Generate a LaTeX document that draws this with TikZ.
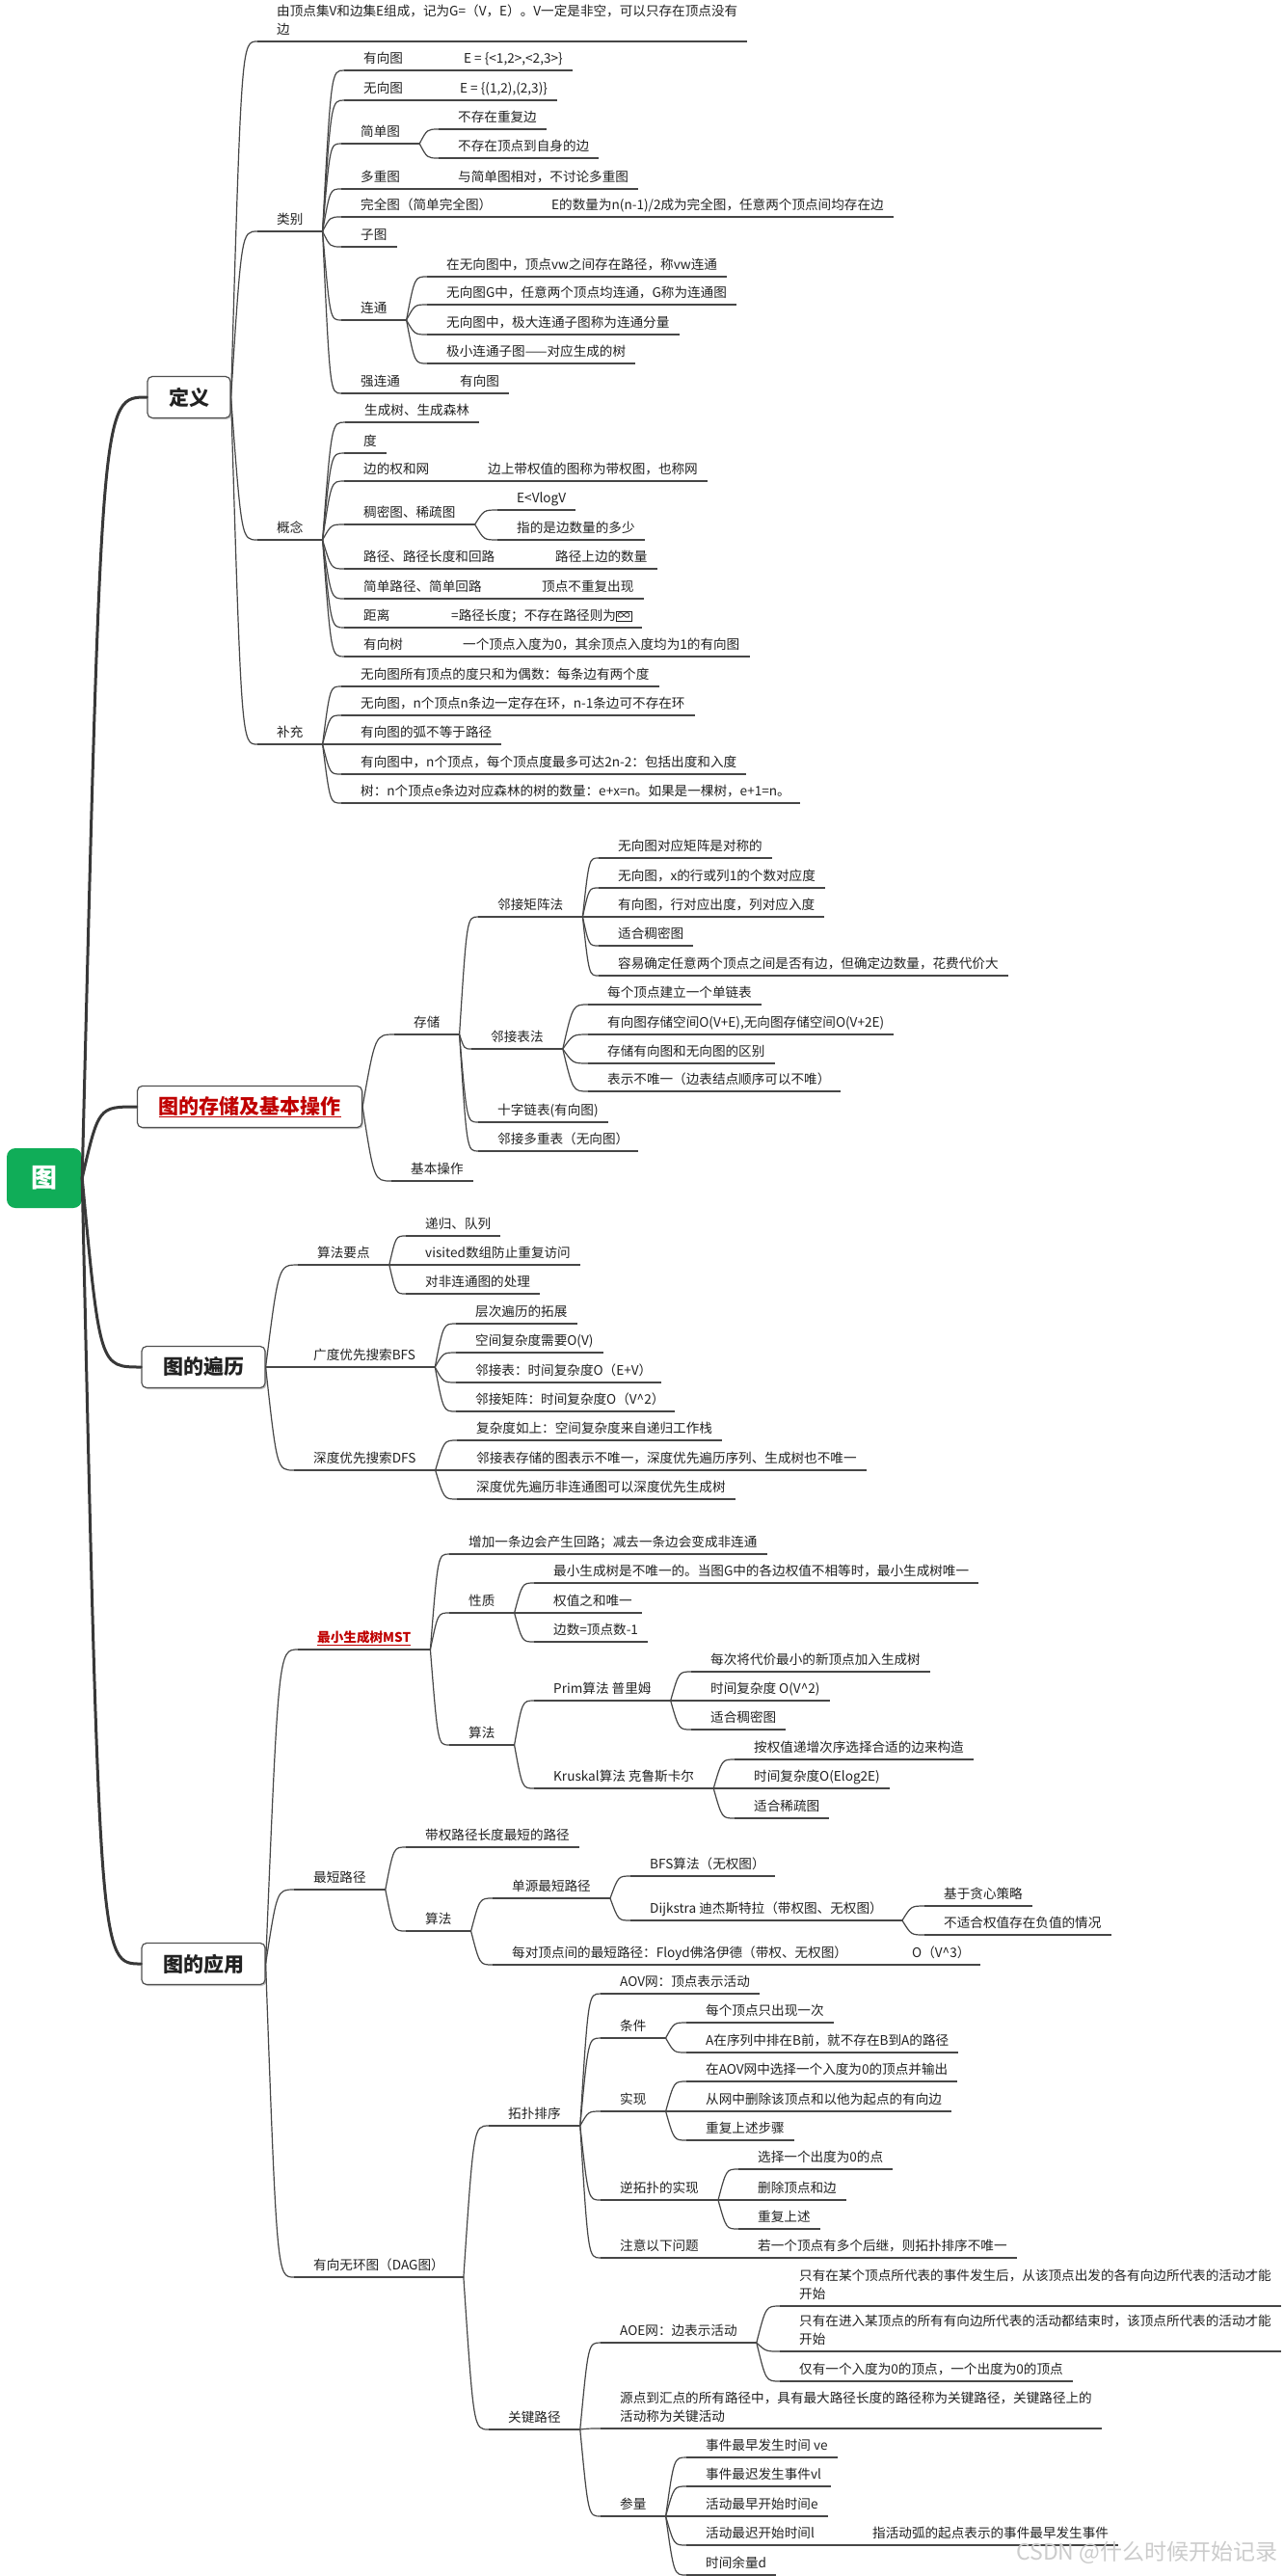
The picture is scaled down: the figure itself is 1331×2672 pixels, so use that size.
\documentclass[tikz,border=0pt]{standalone}
\usepackage{fontspec}
\setmainfont{Noto Sans CJK SC}
\usetikzlibrary{%
  calc,
  shadows,
}

\definecolor{linec}{HTML}{464646}
\definecolor{trunkc}{HTML}{383838}
\definecolor{textc}{HTML}{222222}
\definecolor{redc}{HTML}{C00000}
\definecolor{rootc}{HTML}{10AD58}
\definecolor{boxc}{HTML}{505050}

\newcommand\topicfont{\fontsize{13.6pt}{18.5pt}\selectfont}
\newcommand\boxfont{\fontsize{21pt}{25pt}\selectfont\bfseries}

\tikzset{
  topic/.style = {
    anchor = south west,
    inner xsep = 10pt, inner ysep = 4.5pt,
    text depth = 3pt,
    font = \topicfont, text = textc,
    append after command = {(\tikzlastnode.south west) edge[uline] (\tikzlastnode.south east)},
  },
  leaf/.style = {topic, execute at begin node = {\hspace{10pt}}},
  branch/.style = {leaf, execute at end node = {\hspace{10pt}}},
  multiline/.style = {topic, align = left},
  uline/.style = {draw = linec, line width = 1.2pt},
  link/.style = {
    color = linec, line width = 1.2pt,
    to path = {.. controls ($(\tikztostart|-\tikztotarget)!0.4!(\tikztotarget)$) .. (\tikztotarget)},
  },
  trunk/.style = {
    color = trunkc, line width = 3pt, line cap = round,
    to path = {.. controls ($(\tikztostart|-\tikztotarget)!0.3!(\tikztotarget)$) .. (\tikztotarget)},
  },
  mainbox/.style = {
    draw = boxc, line width = 1.2pt, fill = white,
    rounded corners = 5pt,
    minimum height = 43pt, inner xsep = 22pt,
    font = \boxfont, text = textc,
    drop shadow = {shadow xshift = 1.5pt, shadow yshift = -1.5pt, fill = black!45},
  },
  rootbox/.style = {
    fill = rootc, rounded corners = 9pt,
    minimum width = 78pt, minimum height = 62pt,
    font = \fontsize{27pt}{30pt}\selectfont\bfseries, text = white,
  },
}

\begin{document}
\begin{tikzpicture}[x = 1pt, y = -1pt]
  \fill[white] (0,0) rectangle (1331,2672);
  \useasboundingbox (0,0) rectangle (1331,2672);

  % root and main branches
  \node[rootbox] (root) at (46,1222) {图};
  \node[mainbox] (def) at (196,412) {定义};
  \node[mainbox] (store) at (259,1148) {\textcolor{redc}{\underline{图的存储及基本操作}}};
  \node[mainbox] (trav) at (211,1418) {图的遍历};
  \node[mainbox] (app) at (211,2037) {图的应用};

  % 定义
  \node[multiline] (intro) at (267,43) {\hspace*{10pt}由顶点集V和边集E组成，记为G=（V，E）。V一定是非空，可以只存在顶点没有\\\hspace*{10pt}边};
  \node[branch] (kind) at (267,240) {类别};
  \node[branch] (concept) at (267,560) {概念};
  \node[branch] (extra) at (267,772) {补充};

  \node[branch] (directed) at (357,73) {有向图};
  \node[leaf] (directedE) at (461,73) {E = \{<1,2>,<2,3>\}};
  \node[branch] (undirected) at (357,104) {无向图};
  \node[leaf] (undirectedE) at (457,104) {E = \{(1,2),(2,3)\}};
  \node[branch] (simple) at (354,149) {简单图};
  \node[leaf] (simpleA) at (455,134) {不存在重复边};
  \node[leaf] (simpleB) at (455,164) {不存在顶点到自身的边};
  \node[branch] (multi) at (354,196) {多重图};
  \node[leaf] (multiA) at (455,196) {与简单图相对，不讨论多重图};
  \node[branch] (complete) at (354,225) {完全图（简单完全图）};
  \node[leaf] (completeA) at (552,225) {E的数量为n(n-1)/2成为完全图，任意两个顶点间均存在边};
  \node[leaf] (subgraph) at (354,256) {子图};
  \node[branch] (connected) at (354,332) {连通};
  \node[leaf] (connA) at (443,287) {在无向图中，顶点vw之间存在路径，称vw连通};
  \node[leaf] (connB) at (443,316) {无向图G中，任意两个顶点均连通，G称为连通图};
  \node[leaf] (connC) at (443,347) {无向图中，极大连通子图称为连通分量};
  \node[leaf] (connD) at (443,377) {极小连通子图——对应生成的树};
  \node[branch] (strong) at (354,408) {强连通};
  \node[leaf] (strongA) at (457,408) {有向图};

  \node[leaf] (spanning) at (358,438) {生成树、生成森林};
  \node[leaf] (degree) at (357,470) {度};
  \node[branch] (weight) at (357,499) {边的权和网};
  \node[leaf] (weightA) at (486,499) {边上带权值的图称为带权图，也称网};
  \node[branch] (dense) at (357,544) {稠密图、稀疏图};
  \node[leaf] (denseA) at (516,529) {E<VlogV};
  \node[leaf] (denseB) at (516,560) {指的是边数量的多少};
  \node[branch] (route) at (357,590) {路径、路径长度和回路};
  \node[leaf] (routeA) at (556,590) {路径上边的数量};
  \node[branch] (sroute) at (357,621) {简单路径、简单回路};
  \node[leaf] (srouteA) at (542,621) {顶点不重复出现};
  \node[branch] (dist) at (357,651) {距离};
  \node[leaf] (distA) at (448,651) {=路径长度；不存在路径则为\setlength{\fboxsep}{1pt}\fbox{∞}};
  \node[branch] (dtree) at (357,681) {有向树};
  \node[leaf] (dtreeA) at (460,681) {一个顶点入度为0，其余顶点入度均为1的有向图};

  \node[leaf] (extraA) at (354,712) {无向图所有顶点的度只和为偶数：每条边有两个度};
  \node[leaf] (extraB) at (354,742) {无向图，n个顶点n条边一定存在环，n-1条边可不存在环};
  \node[leaf] (extraC) at (354,772) {有向图的弧不等于路径};
  \node[leaf] (extraD) at (354,803) {有向图中，n个顶点，每个顶点度最多可达2n-2：包括出度和入度};
  \node[leaf] (extraE) at (354,833) {树：n个顶点e条边对应森林的树的数量：e+x=n。如果是一棵树，e+1=n。};

  % 存储
  \node[branch] (storage) at (409,1073) {存储};
  \node[branch] (adjmat) at (496,951) {邻接矩阵法};
  \node[leaf] (matA) at (621,890) {无向图对应矩阵是对称的};
  \node[leaf] (matB) at (621,921) {无向图，x的行或列1的个数对应度};
  \node[leaf] (matC) at (621,951) {有向图，行对应出度，列对应入度};
  \node[leaf] (matD) at (621,981) {适合稠密图};
  \node[leaf] (matE) at (621,1012) {容易确定任意两个顶点之间是否有边，但确定边数量，花费代价大};
  \node[branch] (adjlist) at (489,1088) {邻接表法};
  \node[leaf] (listA) at (610,1042) {每个顶点建立一个单链表};
  \node[leaf] (listB) at (610,1073) {有向图存储空间O(V+E),无向图存储空间O(V+2E)};
  \node[leaf] (listC) at (610,1103) {存储有向图和无向图的区别};
  \node[leaf] (listD) at (610,1132) {表示不唯一（边表结点顺序可以不唯）};
  \node[leaf] (cross) at (496,1164) {十字链表(有向图)};
  \node[leaf] (multilist) at (496,1194) {邻接多重表（无向图）};
  \node[leaf] (basic) at (406,1225) {基本操作};

  % 遍历
  \node[branch] (keys) at (309,1312) {算法要点};
  \node[leaf] (keysA) at (421,1282) {递归、队列};
  \node[leaf] (keysB) at (421,1312) {visited数组防止重复访问};
  \node[leaf] (keysC) at (421,1342) {对非连通图的处理};
  \node[branch] (bfs) at (305,1418) {广度优先搜索BFS};
  \node[leaf] (bfsA) at (473,1373) {层次遍历的拓展};
  \node[leaf] (bfsB) at (473,1403) {空间复杂度需要O(V)};
  \node[leaf] (bfsC) at (473,1434) {邻接表：时间复杂度O（E+V）};
  \node[leaf] (bfsD) at (473,1464) {邻接矩阵：时间复杂度O（V\textasciicircum 2）};
  \node[branch] (dfs) at (305,1525) {深度优先搜索DFS};
  \node[leaf] (dfsA) at (474,1494) {复杂度如上：空间复杂度来自递归工作栈};
  \node[leaf] (dfsB) at (474,1525) {邻接表存储的图表示不唯一，深度优先遍历序列、生成树也不唯一};
  \node[leaf] (dfsC) at (474,1555) {深度优先遍历非连通图可以深度优先生成树};

  % 应用
  \node[branch, text = redc] (mst) at (309,1711) {\textbf{\underline{最小生成树MST}}};
  \node[leaf] (mstA) at (466,1612) {增加一条边会产生回路；减去一条边会变成非连通};
  \node[branch] (prop) at (466,1673) {性质};
  \node[leaf] (propA) at (554,1642) {最小生成树是不唯一的。当图G中的各边权值不相等时，最小生成树唯一};
  \node[leaf] (propB) at (554,1673) {权值之和唯一};
  \node[leaf] (propC) at (554,1703) {边数=顶点数-1};
  \node[branch] (mstalg) at (466,1810) {算法};
  \node[branch] (prim) at (554,1764) {Prim算法 普里姆};
  \node[leaf] (primA) at (717,1734) {每次将代价最小的新顶点加入生成树};
  \node[leaf] (primB) at (717,1764) {时间复杂度 O(V\textasciicircum 2)};
  \node[leaf] (primC) at (717,1794) {适合稠密图};
  \node[branch] (kruskal) at (554,1855) {Kruskal算法 克鲁斯卡尔};
  \node[leaf] (krusA) at (762,1825) {按权值递增次序选择合适的边来构造};
  \node[leaf] (krusB) at (762,1855) {时间复杂度O(Elog2E)};
  \node[leaf] (krusC) at (762,1886) {适合稀疏图};

  \node[branch] (shortest) at (305,1960) {最短路径};
  \node[leaf] (shortA) at (421,1916) {带权路径长度最短的路径};
  \node[branch] (shortalg) at (421,2003) {算法};
  \node[branch] (single) at (511,1969) {单源最短路径};
  \node[leaf] (singleA) at (654,1946) {BFS算法（无权图）};
  \node[branch] (dijkstra) at (654,1992) {Dijkstra 迪杰斯特拉（带权图、无权图）};
  \node[leaf] (dijA) at (959,1977) {基于贪心策略};
  \node[leaf] (dijB) at (959,2007) {不适合权值存在负值的情况};
  \node[branch] (floyd) at (511,2038) {每对顶点间的最短路径：Floyd佛洛伊德（带权、无权图）};
  \node[leaf] (floydA) at (926,2038) {O（V\textasciicircum 3）};

  \node[branch] (dag) at (305,2362) {有向无环图（DAG图）};
  \node[branch] (topo) at (507,2205) {拓扑排序};
  \node[leaf] (aov) at (623,2068) {AOV网：顶点表示活动};
  \node[branch] (cond) at (623,2114) {条件};
  \node[leaf] (condA) at (712,2098) {每个顶点只出现一次};
  \node[leaf] (condB) at (712,2129) {A在序列中排在B前，就不存在B到A的路径};
  \node[branch] (impl) at (623,2190) {实现};
  \node[leaf] (implA) at (712,2159) {在AOV网中选择一个入度为0的顶点并输出};
  \node[leaf] (implB) at (712,2190) {从网中删除该顶点和以他为起点的有向边};
  \node[leaf] (implC) at (712,2220) {重复上述步骤};
  \node[branch] (rev) at (623,2282) {逆拓扑的实现};
  \node[leaf] (revA) at (766,2250) {选择一个出度为0的点};
  \node[leaf] (revB) at (766,2282) {删除顶点和边};
  \node[leaf] (revC) at (766,2312) {重复上述};
  \node[branch] (caution) at (623,2342) {注意以下问题};
  \node[leaf] (cautionA) at (766,2342) {若一个顶点有多个后继，则拓扑排序不唯一};
  \node[branch] (crit) at (507,2520) {关键路径};
  \node[branch] (aoe) at (623,2430) {AOE网：边表示活动};
  \node[multiline] (aoeA) at (809,2392) {\hspace*{10pt}只有在某个顶点所代表的事件发生后，从该顶点出发的各有向边所代表的活动才能\\\hspace*{10pt}开始};
  \node[multiline] (aoeB) at (809,2439) {\hspace*{10pt}只有在进入某顶点的所有有向边所代表的活动都结束时，该顶点所代表的活动才能\\\hspace*{10pt}开始};
  \node[leaf] (aoeC) at (809,2470) {仅有一个入度为0的顶点，一个出度为0的顶点};
  \node[multiline] (critA) at (623,2519) {\hspace*{10pt}源点到汇点的所有路径中，具有最大路径长度的路径称为关键路径，关键路径上的\\\hspace*{10pt}活动称为关键活动};
  \node[branch] (param) at (623,2610) {参量};
  \node[leaf] (paramA) at (712,2549) {事件最早发生时间 ve};
  \node[leaf] (paramB) at (712,2579) {事件最迟发生事件vl};
  \node[leaf] (paramC) at (712,2610) {活动最早开始时间e};
  \node[branch] (paramD) at (712,2640) {活动最迟开始时间l};
  \node[leaf] (paramDA) at (885,2640) {指活动弧的起点表示的事件最早发生事件};
  \node[leaf] (paramE) at (712,2671) {时间余量d};

  \node[anchor = east, text = black!20, font = \fontsize{23pt}{26pt}\selectfont] (mark) at (1329,2648) {CSDN @什么时候开始记录};

  % connectors
  \begin{scope}[trunk]
    \foreach \b in {def, store, trav, app}
      \draw (root.east) to (\b.west);
  \end{scope}

  \begin{scope}[link]
    \foreach \c in {intro, kind, concept, extra}
      \draw (def.east) to (\c.south west);
    \foreach \c in {directed, undirected, simple, multi, complete, subgraph, connected, strong}
      \draw (kind.south east) to (\c.south west);
    \foreach \c in {spanning, degree, weight, dense, route, sroute, dist, dtree}
      \draw (concept.south east) to (\c.south west);
    \foreach \c in {extraA, extraB, extraC, extraD, extraE}
      \draw (extra.south east) to (\c.south west);

    \foreach \c in {storage, basic}
      \draw (store.east) to (\c.south west);
    \foreach \c in {adjmat, adjlist, cross, multilist}
      \draw (storage.south east) to (\c.south west);
    \foreach \c in {matA, matB, matC, matD, matE}
      \draw (adjmat.south east) to (\c.south west);
    \foreach \c in {listA, listB, listC, listD}
      \draw (adjlist.south east) to (\c.south west);

    \foreach \c in {keys, bfs, dfs}
      \draw (trav.east) to (\c.south west);
    \foreach \c in {keysA, keysB, keysC}
      \draw (keys.south east) to (\c.south west);
    \foreach \c in {bfsA, bfsB, bfsC, bfsD}
      \draw (bfs.south east) to (\c.south west);
    \foreach \c in {dfsA, dfsB, dfsC}
      \draw (dfs.south east) to (\c.south west);

    \foreach \c in {mst, shortest, dag}
      \draw (app.east) to (\c.south west);
    \foreach \c in {mstA, prop, mstalg}
      \draw (mst.south east) to (\c.south west);
    \foreach \c in {propA, propB, propC}
      \draw (prop.south east) to (\c.south west);
    \foreach \c in {prim, kruskal}
      \draw (mstalg.south east) to (\c.south west);
    \foreach \c in {primA, primB, primC}
      \draw (prim.south east) to (\c.south west);
    \foreach \c in {krusA, krusB, krusC}
      \draw (kruskal.south east) to (\c.south west);
    \foreach \c in {shortA, shortalg}
      \draw (shortest.south east) to (\c.south west);
    \foreach \c in {single, floyd}
      \draw (shortalg.south east) to (\c.south west);
    \foreach \c in {singleA, dijkstra}
      \draw (single.south east) to (\c.south west);
    \foreach \c in {dijA, dijB}
      \draw (dijkstra.south east) to (\c.south west);
    \foreach \c in {topo, crit}
      \draw (dag.south east) to (\c.south west);
    \foreach \c in {aov, cond, impl, rev, caution}
      \draw (topo.south east) to (\c.south west);
    \foreach \c in {condA, condB}
      \draw (cond.south east) to (\c.south west);
    \foreach \c in {implA, implB, implC}
      \draw (impl.south east) to (\c.south west);
    \foreach \c in {revA, revB, revC}
      \draw (rev.south east) to (\c.south west);
    \foreach \c in {aoe, critA, param}
      \draw (crit.south east) to (\c.south west);
    \foreach \c in {aoeA, aoeB, aoeC}
      \draw (aoe.south east) to (\c.south west);
    \foreach \c in {paramA, paramB, paramC, paramD, paramE}
      \draw (param.south east) to (\c.south west);

    % same-line children
    \foreach \p/\c in {directed/directedE, undirected/undirectedE, simple/simpleA, simple/simpleB,
        multi/multiA, complete/completeA, strong/strongA, weight/weightA, dense/denseA, dense/denseB,
        route/routeA, sroute/srouteA, dist/distA, dtree/dtreeA, floyd/floydA, caution/cautionA,
        paramD/paramDA}
      \draw (\p.south east) to (\c.south west);
    \foreach \c in {connA, connB, connC, connD}
      \draw (connected.south east) to (\c.south west);
  \end{scope}
\end{tikzpicture}
\end{document}
